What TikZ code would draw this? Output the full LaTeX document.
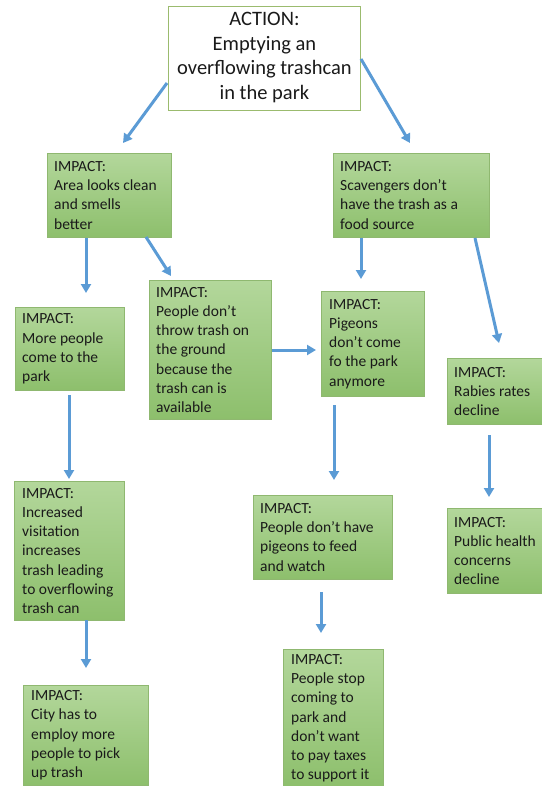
\documentclass[tikz,border=0pt]{standalone}
\usepackage{fontspec}
\setmainfont{Carlito}
\usetikzlibrary{arrows.meta}
\definecolor{gtop}{HTML}{B3D79B}
\definecolor{gbot}{HTML}{8DBF6C}
\definecolor{gborder}{HTML}{8FB870}
\definecolor{abord}{HTML}{9BBB6E}
\definecolor{arrblue}{HTML}{5B9BD5}
\definecolor{txtc}{HTML}{1A1A1A}
\tikzset{
  impactbox/.style={draw=gborder, line width=0.8pt, top color=gtop, bottom color=gbot, inner sep=0pt, anchor=north west},
  actionbox/.style={draw=abord, line width=0.9pt, fill=white, inner sep=0pt, anchor=north west},
  impacttxt/.style={inner sep=0pt, align=left, anchor=west, text=txtc, font=\fontsize{15.5}{19.2}\selectfont},
  actiontxt/.style={inner sep=0pt, align=center, text=txtc, font=\fontsize{20.5}{24.7}\selectfont},
  arr/.style={draw=arrblue, line width=3pt, -{Triangle[length=9pt,width=10pt]}}
}
\begin{document}
\begin{tikzpicture}[x=1pt,y=-1pt]
\useasboundingbox (0,0) rectangle (541,786);
% boxes
\node[actionbox, minimum width=192pt, minimum height=104pt] (act) at (168,6) {};
\node[actiontxt] (actt) at ([yshift=1pt]act.center) {ACTION:\\Emptying an\\overflowing trashcan\\in the park};

\node[impactbox, minimum width=124pt, minimum height=84pt] (a) at (47,153) {};
\node[impacttxt] (at) at ([xshift=7pt]a.west) {IMPACT:\\Area looks clean\\and smells\\better};

\node[impactbox, minimum width=156pt, minimum height=84pt] (b) at (333,153) {};
\node[impacttxt] (bt) at ([xshift=7pt]b.west) {IMPACT:\\Scavengers don’t\\have the trash as a\\food source};

\node[impactbox, minimum width=109pt, minimum height=83pt] (c) at (15,307) {};
\node[impacttxt] (ct) at ([xshift=7pt]c.west) {IMPACT:\\More people\\come to the\\park};

\node[impactbox, minimum width=122pt, minimum height=139pt] (d) at (149,280) {};
\node[impacttxt] (dt) at ([xshift=7pt]d.west) {IMPACT:\\People don’t\\throw trash on\\the ground\\because the\\trash can is\\available};

\node[impactbox, minimum width=103pt, minimum height=105pt] (e) at (321,291) {};
\node[impacttxt] (et) at ([xshift=8pt]e.west) {IMPACT:\\Pigeons\\don’t come\\fo the park\\anymore};

\node[impactbox, minimum width=95pt, minimum height=66pt] (f) at (447,358) {};
\node[impacttxt] (ft) at ([xshift=7pt]f.west) {IMPACT:\\Rabies rates\\decline};

\node[impactbox, minimum width=110pt, minimum height=139pt] (g) at (14,481) {};
\node[impacttxt] (gt) at ([xshift=8pt]g.west) {IMPACT:\\Increased\\visitation\\increases\\trash leading\\to overflowing\\trash can};

\node[impactbox, minimum width=139pt, minimum height=84pt] (h) at (253,495) {};
\node[impacttxt] (ht) at ([xshift=7pt]h.west) {IMPACT:\\People don’t have\\pigeons to feed\\and watch};

\node[impactbox, minimum width=95pt, minimum height=85pt] (i) at (447,508) {};
\node[impacttxt] (it) at ([xshift=7pt]i.west) {IMPACT:\\Public health\\concerns\\decline};

\node[impactbox, minimum width=125pt, minimum height=100pt] (j) at (23,685) {};
\node[impacttxt] (jt) at ([xshift=8pt]j.west) {IMPACT:\\City has to\\employ more\\people to pick\\up trash};

\node[impactbox, minimum width=100pt, minimum height=138pt] (k) at (283,649) {};
\node[impacttxt] (kt) at ([xshift=8pt]k.west) {IMPACT:\\People stop\\coming to\\park and\\don’t want\\to pay taxes\\to support it};

% arrow end points
\coordinate (p1s) at (167,83);  \coordinate (p1e) at (123,143);
\coordinate (p2s) at (361,59);  \coordinate (p2e) at (410,143);
\coordinate (p3s) at (86,238);  \coordinate (p3e) at (86,293);
\coordinate (p4s) at (146,237); \coordinate (p4e) at (171,276);
\coordinate (p5s) at (361,238); \coordinate (p5e) at (361,279);
\coordinate (p6s) at (475,238); \coordinate (p6e) at (499,343);
\coordinate (p7s) at (272,350); \coordinate (p7e) at (316,350);
\coordinate (p8s) at (69,395);  \coordinate (p8e) at (69,479);
\coordinate (p9s) at (334,405); \coordinate (p9e) at (334,480);
\coordinate (p10s) at (489,435); \coordinate (p10e) at (489,497);
\coordinate (p11s) at (86,620); \coordinate (p11e) at (86,668);
\coordinate (p12s) at (321,592); \coordinate (p12e) at (321,633);

\draw[arr] (p1s) -- (p1e);
\draw[arr] (p2s) -- (p2e);
\draw[arr] (p3s) -- (p3e);
\draw[arr] (p4s) -- (p4e);
\draw[arr] (p5s) -- (p5e);
\draw[arr] (p6s) -- (p6e);
\draw[arr] (p7s) -- (p7e);
\draw[arr] (p8s) -- (p8e);
\draw[arr] (p9s) -- (p9e);
\draw[arr] (p10s) -- (p10e);
\draw[arr] (p11s) -- (p11e);
\draw[arr] (p12s) -- (p12e);
\end{tikzpicture}
\end{document}
